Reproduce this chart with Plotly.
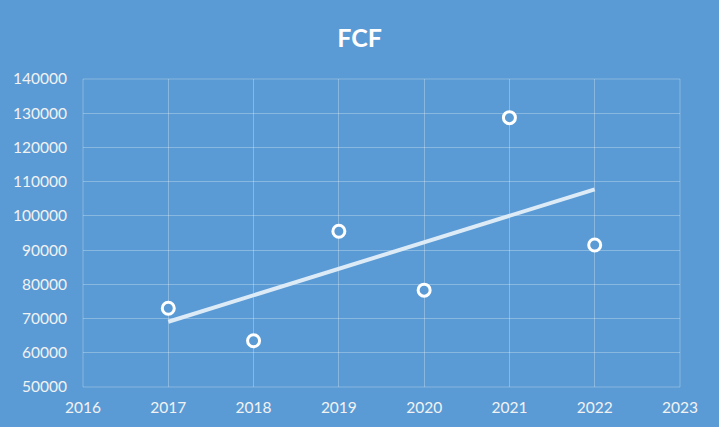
import numpy as np
import plotly.graph_objects as go

years = [2017, 2018, 2019, 2020, 2021, 2022]
fcf = [73000, 63500, 95500, 78300, 128700, 91500]

# linear trendline (least squares), as Excel draws it
slope, intercept = np.polyfit(years, fcf, 1)
trend_x = [years[0], years[-1]]
trend_y = [slope * x + intercept for x in trend_x]

bg = "#5B9BD5"
grid = "rgba(255,255,255,0.28)"

fig = go.Figure()
fig.add_trace(
    go.Scatter(
        x=trend_x,
        y=trend_y,
        mode="lines",
        line=dict(color="#DDEBF7", width=4),
        hoverinfo="skip",
    )
)
fig.add_trace(
    go.Scatter(
        x=years,
        y=fcf,
        mode="markers",
        marker=dict(
            symbol="circle",
            size=12,
            color=bg,
            line=dict(color="white", width=3),
        ),
        name="FCF",
    )
)

fig.update_layout(
    width=719,
    height=427,
    paper_bgcolor=bg,
    plot_bgcolor=bg,
    showlegend=False,
    margin=dict(l=83, r=39, t=79, b=40),
    title=dict(
        text="<b>FCF</b>",
        x=0.5,
        xanchor="center",
        y=1 - 38 / 427,
        yanchor="middle",
        font=dict(family="Lato, Open Sans, sans-serif", size=25, color="white"),
    ),
    font=dict(family="Lato, Open Sans, sans-serif", size=15.5, color="#F2F2F2"),
)
fig.update_xaxes(
    range=[2016, 2023],
    dtick=1,
    tick0=2016,
    showgrid=True,
    gridcolor=grid,
    gridwidth=1,
    zeroline=False,
    showline=False,
    ticks="",
    ticklabelstandoff=9,
)
fig.update_yaxes(
    range=[50000, 140000],
    dtick=10000,
    showgrid=True,
    gridcolor=grid,
    gridwidth=1,
    zeroline=False,
    showline=False,
    ticks="",
    tickformat="d",
    ticklabelstandoff=15,
)
# outer border lines of the plot area
fig.add_shape(type="rect", xref="paper", yref="paper", x0=0, y0=0, x1=1, y1=1,
              line=dict(color=grid, width=1), layer="below")

fig.write_html(
    "out.html",
    config={"displayModeBar": False},
    post_script="document.body.style.margin='0';",
)
